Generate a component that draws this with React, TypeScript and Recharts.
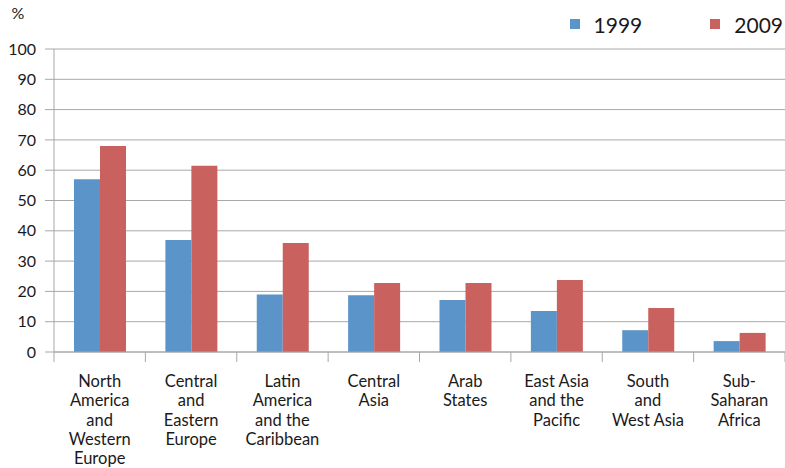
import React from "react";
import {
  BarChart,
  Bar,
  XAxis,
  YAxis,
  CartesianGrid,
  Legend,
} from "recharts";

const regions = [
  "North\nAmerica\nand\nWestern\nEurope",
  "Central\nand\nEastern\nEurope",
  "Latin\nAmerica\nand the\nCaribbean",
  "Central\nAsia",
  "Arab\nStates",
  "East Asia\nand the\nPacific",
  "South\nand\nWest Asia",
  "Sub-\nSaharan\nAfrica",
];
const values1999 = [57, 37, 19, 18.7, 17.2, 13.5, 7.2, 3.6];
const values2009 = [68, 61.5, 36, 22.8, 22.8, 23.8, 14.5, 6.3];
const yTicks = [0, 10, 20, 30, 40, 50, 60, 70, 80, 90, 100];

const data = regions.map((region, i) => ({
  region,
  y1999: values1999[i],
  y2009: values2009[i],
}));

const FONT = "Lato, 'Open Sans', sans-serif";
const GRID = "#a8a8a8";
const LEGEND_H = 28;
const X_AXIS_H = 30;
const MARGIN = { top: 49 - LEGEND_H, right: 0, bottom: 116 - X_AXIS_H, left: 0 };
const WIDTH = 785;
const Y_WIDTH = 54;
const BAND = (WIDTH - Y_WIDTH - MARGIN.right) / regions.length;

const RegionTick = (props: any) => {
  const { x, y, payload, index } = props;
  const lines = String(payload.value).split("\n");
  const left = x - BAND / 2;
  return (
    <g>
      <line x1={left} y1={y - 8} x2={left} y2={y + 2} stroke={GRID} />
      {index === regions.length - 1 && (
        <line x1={left + BAND} y1={y - 8} x2={left + BAND} y2={y + 2} stroke={GRID} />
      )}
      <text
        x={x}
        y={y}
        textAnchor="middle"
        fontFamily={FONT}
        fontSize={16.5}
        fill="#1a1a1a"
      >
        {lines.map((l, i) => (
          <tspan key={i} x={x} dy={i === 0 ? 27 : 19.3}>
            {l}
          </tspan>
        ))}
      </text>
    </g>
  );
};

const LegendContent = (props: any) => {
  const { payload } = props;
  return (
    <div
      style={{
        display: "flex",
        height: LEGEND_H,
        fontFamily: FONT,
        fontSize: 21,
        color: "#1a1a1a",
      }}
    >
      {payload.map((p: any, i: number) => (
        <div
          key={p.value}
          style={{ display: "flex", alignItems: "center", marginLeft: i === 0 ? 0 : 68 }}
        >
          <span
            style={{
              width: 10,
              height: 10,
              background: p.color,
              display: "inline-block",
              marginRight: 14,
            }}
          />
          <span>{p.value}</span>
        </div>
      ))}
    </div>
  );
};

export default function App() {
  return (
    <div style={{ position: "absolute", left: 0, top: 0, background: "#fff" }}>
      <BarChart
        width={WIDTH}
        height={468}
        data={data}
        margin={MARGIN}
        barCategoryGap={20}
        barGap={0}
      >
        <CartesianGrid vertical={false} stroke={GRID} />
        <XAxis
          dataKey="region"
          height={X_AXIS_H}
          interval={0}
          axisLine={{ stroke: GRID }}
          tickLine={false}
          tick={<RegionTick />}
        />
        <YAxis
          width={Y_WIDTH}
          domain={[0, 100]}
          ticks={yTicks}
          interval={0}
          axisLine={{ stroke: GRID }}
          tickLine={{ stroke: GRID }}
          tickSize={9}
          tickMargin={9}
          tick={{ fontFamily: FONT, fontSize: 16, fill: "#1a1a1a" }}
          label={{
            value: "%",
            position: "top",
            offset: 30,
            dx: -9,
            style: { fontFamily: FONT, fontSize: 16, fill: "#1a1a1a" },
          }}
        />
        <Legend
          verticalAlign="top"
          align="right"
          height={LEGEND_H}
          content={<LegendContent />}
          wrapperStyle={{ top: 10, right: 2, left: "auto", width: "auto" }}
        />
        <Bar dataKey="y1999" name="1999" fill="#5a94c8" isAnimationActive={false} />
        <Bar dataKey="y2009" name="2009" fill="#c9625f" isAnimationActive={false} />
      </BarChart>
    </div>
  );
}
